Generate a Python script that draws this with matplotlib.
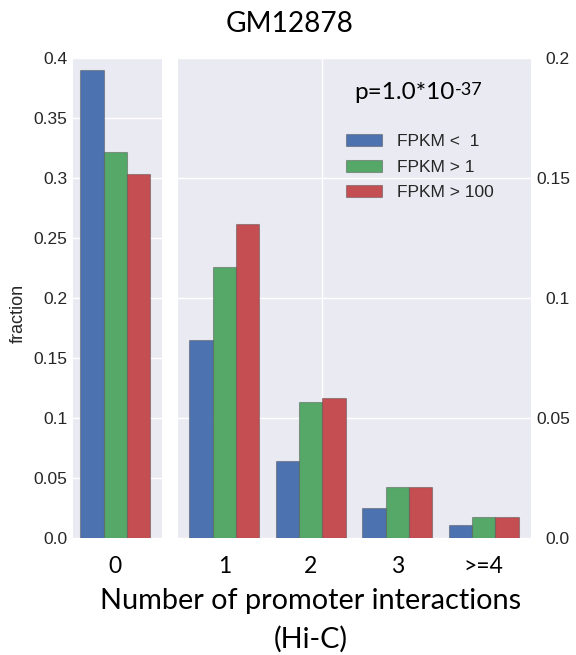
import matplotlib
matplotlib.use("Agg")
import matplotlib.pyplot as plt
import numpy as np

# fraction of promoters by number of Hi-C interactions, per expression class
series_names = ["FPKM <  1", "FPKM > 1", "FPKM > 100"]
colors = ["#4C72B0", "#55A868", "#C44E52"]

zero_labels = ["0"]
zero_values = [0.390, 0.321, 0.303]           # one value per series, category 0

multi_labels = ["1", "2", "3", ">=4"]
multi_values = [
    [0.0824, 0.0318, 0.0121, 0.0053],         # FPKM < 1
    [0.1129, 0.0564, 0.0210, 0.0085],         # FPKM > 1
    [0.1307, 0.0583, 0.0211, 0.0086],         # FPKM > 100
]

left_ticks = [0.0, 0.05, 0.1, 0.15, 0.2, 0.25, 0.3, 0.35, 0.4]
left_ticklabels = ["0.0", "0.05", "0.1", "0.15", "0.2", "0.25", "0.3", "0.35", "0.4"]
right_ticks = [0.0, 0.05, 0.1, 0.15, 0.2]
right_ticklabels = ["0.0", "0.05", "0.1", "0.15", "0.2"]

title = "GM12878"
pvalue_text = "p=1.0*10"
pvalue_exp = "-37"

BG = "#EAEAF2"
TXT = "#262626"
BIGFONT = "Lato"
SMALLFONT = "Liberation Sans"
W = 0.27

plt.rcParams["font.family"] = [SMALLFONT, "DejaVu Sans"]

fig = plt.figure(figsize=(5.76, 6.55), dpi=100)
FW, FH = 576.0, 655.0

def px_axes(x0, x1, ytop, ybot):
    return fig.add_axes([x0 / FW, 1 - ybot / FH, (x1 - x0) / FW, (ybot - ytop) / FH])

ax0 = px_axes(72.7, 162.0, 57.5, 537.5)
ax1 = px_axes(178.3, 531.0, 57.5, 537.5)

for ax in (ax0, ax1):
    ax.set_facecolor(BG)
    ax.set_axisbelow(True)
    for s in ax.spines.values():
        s.set_visible(False)
    ax.grid(axis="y", color="white", lw=1.0)
    ax.tick_params(length=0, labelsize=12.5, labelcolor=TXT)

# left panel: category 0
x0 = np.arange(len(zero_labels))
for k in range(3):
    ax0.bar(x0 + (k - 1) * W, [zero_values[k]], W, color=colors[k],
            edgecolor=(0.3, 0.3, 0.3, 0.45), lw=0.8, zorder=2)
ax0.set_xlim(-0.493, 0.54)
ax0.set_ylim(0, 0.4)
ax0.set_yticks(left_ticks)
ax0.set_yticklabels(left_ticklabels)
ax0.tick_params(axis="y", pad=4)
ax0.set_xticks(x0)
ax0.set_xticklabels(zero_labels, fontfamily=BIGFONT, fontsize=16.5, color="black")
ax0.tick_params(axis="x", pad=13)

# right panel: 1 and more interactions
x1 = np.arange(len(multi_labels))
bars = []
for k in range(3):
    b = ax1.bar(x1 + (k - 1) * W, multi_values[k], W, color=colors[k],
                edgecolor=(0.3, 0.3, 0.3, 0.45), lw=0.8, zorder=2,
                label=series_names[k])
    bars.append(b)
ax1.axvline(1.135, color="white", lw=1.0, zorder=0.5)
ax1.set_xlim(-0.532, 3.547)
ax1.set_ylim(0, 0.2)
ax1.yaxis.tick_right()
ax1.set_yticks(right_ticks)
ax1.set_yticklabels(right_ticklabels)
for t in ax1.get_yticklabels():
    t.set_horizontalalignment("right")
ax1.tick_params(axis="y", pad=28)
ax1.set_xticks(x1)
ax1.set_xticklabels(multi_labels, fontfamily=BIGFONT, fontsize=16.5, color="black")
ax1.tick_params(axis="x", pad=13)

fig.legend(handles=bars, labels=series_names, loc="upper left",
           bbox_to_anchor=(346 / FW, 1 - 134 / FH), frameon=False,
           fontsize=12.5, borderpad=0, borderaxespad=0,
           handlelength=2.07, handleheight=0.7, handletextpad=0.85,
           labelspacing=0.6, labelcolor=TXT)

fig.text(0.031, 1 - 313 / FH, "fraction", rotation=90, ha="center", va="center",
         fontsize=13, color=TXT)

fig.text(290 / FW, 1 - 31.7 / FH, title, ha="center", va="baseline",
         fontfamily=BIGFONT, fontsize=20.2, color="black")

fig.text(354 / FW, 1 - 99.3 / FH, pvalue_text, ha="left", va="baseline",
         fontfamily=BIGFONT, fontsize=17.5, color="black")
fig.text(455 / FW, 1 - 95 / FH, pvalue_exp, ha="left", va="baseline",
         fontfamily=BIGFONT, fontsize=13, color="black")

fig.text(311 / FW, 1 - 609.3 / FH, "Number of promoter interactions",
         ha="center", va="baseline", fontfamily=BIGFONT, fontsize=20.8, color="black")
fig.text(311 / FW, 1 - 648 / FH, "(Hi-C)",
         ha="center", va="baseline", fontfamily=BIGFONT, fontsize=20.8, color="black")

fig.savefig("out.png", dpi=100, facecolor="white")
